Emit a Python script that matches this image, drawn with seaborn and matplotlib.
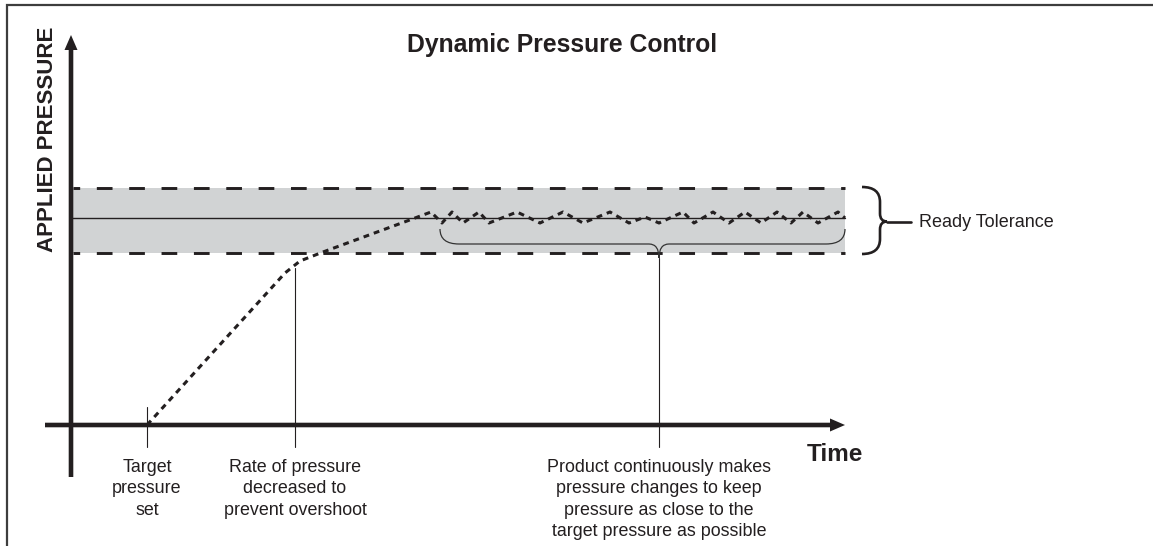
import numpy as np
import pandas as pd
import matplotlib
matplotlib.use("Agg")
import matplotlib.pyplot as plt
from matplotlib.path import Path
from matplotlib.patches import PathPatch
import seaborn as sns

# ---------------------------------------------------------------------------
# Data: applied pressure against time (arbitrary units, origin at the corner
# where the two axes meet)
# ---------------------------------------------------------------------------
ramp_time = [76, 214, 229, 252, 336, 360]
ramp_pressure = [0, 152, 164, 173, 204, 213]

hold_time = [371, 381, 392, 408, 418, 446, 469, 492, 512, 539, 558, 574, 588,
             612, 623, 642, 658, 674, 690, 706, 720, 732, 747, 767, 774]
hold_pressure = [202, 213, 202, 213, 202, 213, 202, 213, 202, 213, 202, 208, 202,
                 213, 202, 213, 202, 213, 202, 213, 202, 213, 202, 213, 207]

target_pressure = 207
tolerance_band = [172, 237]          # lower / upper limit of "Ready Tolerance"
time_end = 774

event_times = [76, 224, 588]
event_labels = [
    "Target\npressure\nset",
    "Rate of pressure\ndecreased to\nprevent overshoot",
    "Product continuously makes\npressure changes to keep\n"
    "pressure as close to the\ntarget pressure as possible",
]
settle_window = [369, 774]           # span of the continuous corrections

# ---------------------------------------------------------------------------
# Style
# ---------------------------------------------------------------------------
INK = "#231f20"
BAND = "#d1d3d4"
FRAME = "#3d3d3d"

sns.set_theme(style="white")
plt.rcParams["font.family"] = ["Liberation Sans", "DejaVu Sans"]
plt.rcParams["lines.scale_dashes"] = False

fig = plt.figure(figsize=(11.53, 5.46), dpi=100)
ax = fig.add_axes([0, 0, 1, 1])

# page frame (top and left rules)
ax.plot([1082, -64, -64], [420, 420, -121], color=FRAME, lw=1.6,
        solid_joinstyle="miter", zorder=1)

# tolerance band with dashed limits and the target line
lo, hi = tolerance_band
ax.fill_between([1, time_end], lo, hi, color=BAND, lw=0, zorder=1)
for lvl in tolerance_band:
    ax.plot([2, time_end], [lvl, lvl], color=INK, lw=2.1,
            linestyle=(6.5, (11.3, 12.0)), zorder=2)
ax.plot([1, time_end], [target_pressure] * 2, color=INK, lw=1.0, zorder=2)

# applied pressure trace
curve = pd.DataFrame({
    "time": ramp_time + hold_time,
    "pressure": ramp_pressure + hold_pressure,
})
sns.lineplot(data=curve, x="time", y="pressure", ax=ax, color=INK, lw=2.2,
             linestyle=(0, (4.2, 3.6)), zorder=4, legend=False)
ax.set_xlim(-71, 1082)
ax.set_ylim(-121, 425)
ax.axis("off")

# axes with arrow heads
ax.arrow(0, -52, 0, 442, width=4.6, head_width=13, head_length=15,
         length_includes_head=True, color=INK, lw=0, zorder=5)
ax.arrow(-26, 0, time_end + 26, 0, width=4.6, head_width=13, head_length=15,
         length_includes_head=True, color=INK, lw=0, zorder=5)

# leader lines from each event down below the time axis
knee_p = np.interp(event_times[1], ramp_time, ramp_pressure)
leader_tops = [18, knee_p - 3, 167]
for t, top in zip(event_times, leader_tops):
    ax.plot([t, t], [top, -22], color=INK, lw=0.8, zorder=3)
for t, lab in zip(event_times, event_labels):
    ax.text(t, -34, lab, ha="center", va="top", fontsize=12.9,
            color=INK, linespacing=1.33)


def brace_down(x0, x1, xt, y_top, y_bar, y_tip, r, rt):
    verts = [(x0, y_top), (x0, y_bar), (x0 + r, y_bar),
             (xt - rt, y_bar), (xt, y_bar), (xt, y_tip),
             (xt, y_bar), (xt + rt, y_bar),
             (x1 - r, y_bar), (x1, y_bar), (x1, y_top)]
    codes = [Path.MOVETO, Path.CURVE3, Path.CURVE3, Path.LINETO,
             Path.CURVE3, Path.CURVE3, Path.CURVE3, Path.CURVE3,
             Path.LINETO, Path.CURVE3, Path.CURVE3]
    return Path(verts, codes)


def brace_right(x0, xb, xt, y_top, y_bot, y_mid, r, rt):
    verts = [(x0, y_top), (xb, y_top), (xb, y_top - r),
             (xb, y_mid + rt), (xb, y_mid), (xt, y_mid),
             (xb, y_mid), (xb, y_mid - rt),
             (xb, y_bot + r), (xb, y_bot), (x0, y_bot)]
    codes = [Path.MOVETO, Path.CURVE3, Path.CURVE3, Path.LINETO,
             Path.CURVE3, Path.CURVE3, Path.CURVE3, Path.CURVE3,
             Path.LINETO, Path.CURVE3, Path.CURVE3]
    return Path(verts, codes)


# brace over the settling region, pointing at its leader line
ax.add_patch(PathPatch(
    brace_down(settle_window[0], settle_window[1], event_times[2],
               196, 181, 167, 19, 10),
    fill=False, ec="#333333", lw=0.9, zorder=3))

# brace marking the tolerance band
mid = (lo + hi) / 2
ax.add_patch(PathPatch(
    brace_right(time_end + 17, time_end + 35, time_end + 42, hi + 1, lo - 1,
                mid - 1, 15, 8),
    fill=False, ec=INK, lw=1.9, zorder=3, capstyle="butt"))
ax.plot([time_end + 42, time_end + 66], [mid - 1, mid - 1], color=INK, lw=1.9)
ax.text(time_end + 74, mid - 2, "Ready Tolerance", ha="left", va="center",
        fontsize=13.0, color=INK)

# titles
ax.text(491, 373, "Dynamic Pressure Control", ha="center", va="baseline",
        fontsize=17.8, fontweight="bold", color=INK)
ax.text(-23, 286, "APPLIED PRESSURE", ha="center", va="center", rotation=90,
        fontsize=16.0, fontweight="bold", color=INK)
ax.text(764, -36, "Time", ha="center", va="baseline", fontsize=17.5,
        fontweight="bold", color=INK)

fig.savefig("out.png", dpi=100, facecolor="white")
